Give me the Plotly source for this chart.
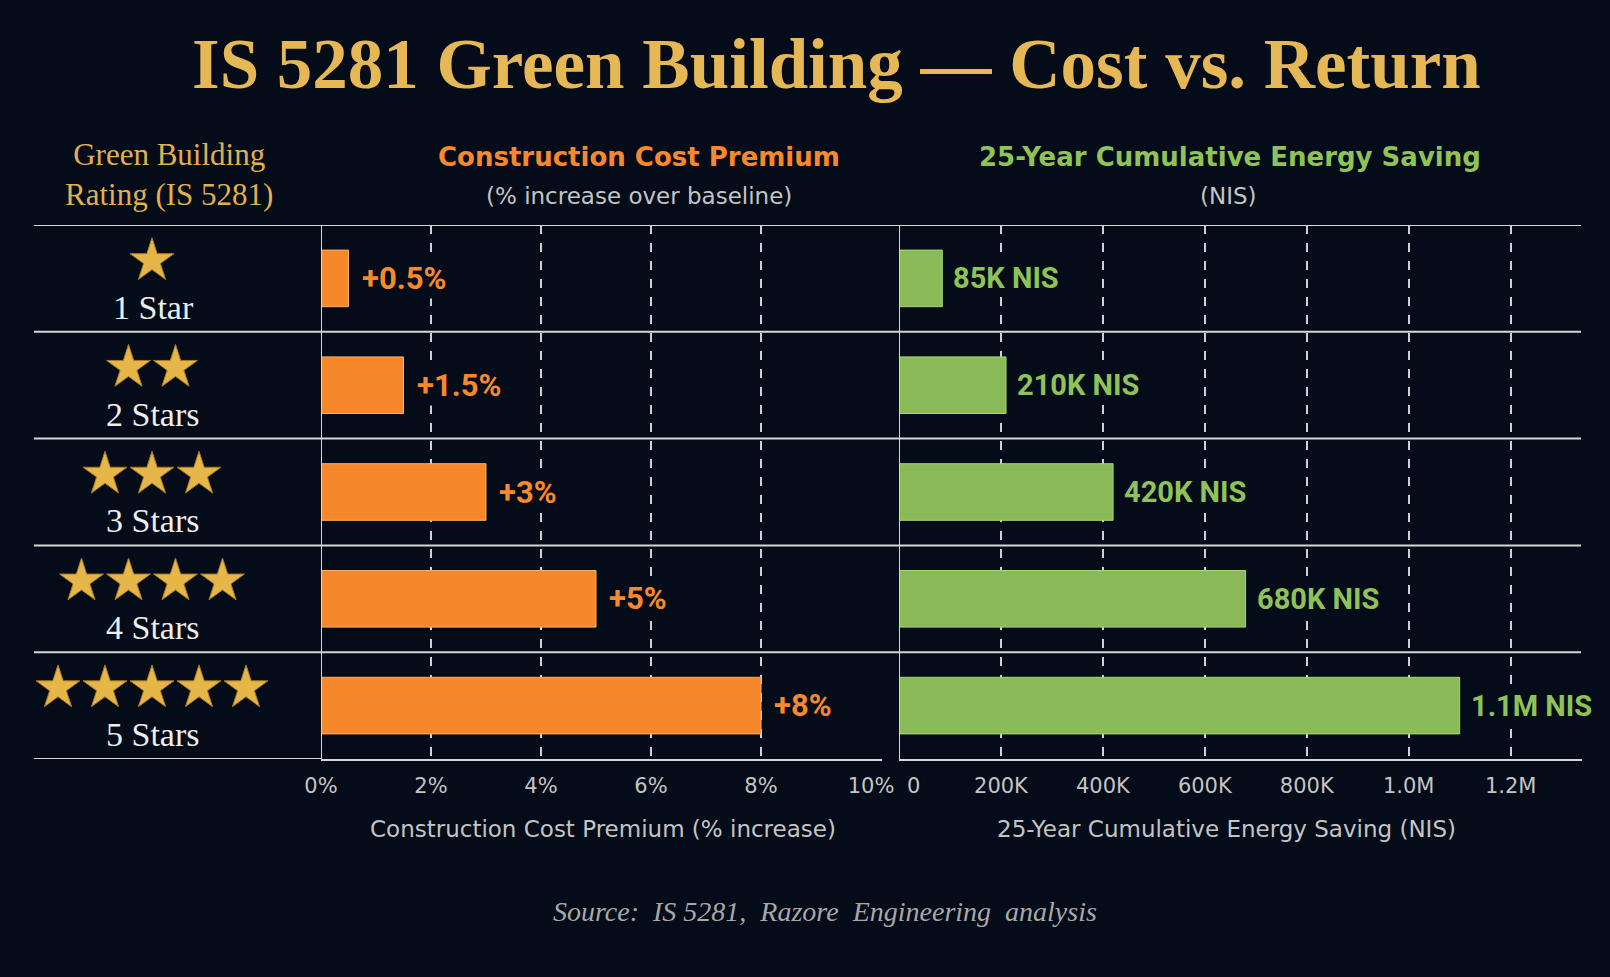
import plotly.graph_objects as go

# ---------------- data ----------------
ratings = ["1 Star", "2 Stars", "3 Stars", "4 Stars", "5 Stars"]
star_counts = [1, 2, 3, 4, 5]
cost_premium_pct = [0.5, 1.5, 3, 5, 8]
cost_labels = ["+0.5%", "+1.5%", "+3%", "+5%", "+8%"]
energy_saving_nis = [85000, 210000, 420000, 680000, 1100000]
saving_labels = ["85K NIS", "210K NIS", "420K NIS", "680K NIS", "1.1M NIS"]
cost_ticks = [0, 2, 4, 6, 8, 10]
cost_tick_text = ["0%", "2%", "4%", "6%", "8%", "10%"]
saving_ticks = [200000, 400000, 600000, 800000, 1000000, 1200000]
saving_tick_text = ["200K", "400K", "600K", "800K", "1.0M", "1.2M"]
saving_zero_label = "0"

# ---------------- style ----------------
W, H = 1610, 977
BG = "#040b19"
GOLD = "#e6b755"
ORANGE = "#f7872b"
ORANGE_TXT = "#f7892c"
GREEN = "#89ba57"
GREEN_TXT = "#8fc257"
GRAY = "#c4c4c4"
LINE = "#d6d6d6"
SERIF = "Liberation Serif, DejaVu Serif, serif"
SANS = "Roboto, Liberation Sans, sans-serif"
SANS2 = "DejaVu Sans, Liberation Sans, sans-serif"

def px_x(p):
    return p / W

def px_y(p):
    return 1 - p / H

rows = list(range(len(ratings)))

fig = go.Figure()

# cost bars
fig.add_trace(go.Bar(
    x=cost_premium_pct, y=rows, orientation="h", xaxis="x", yaxis="y",
    width=0.53, marker=dict(color=ORANGE, line=dict(color="#ffb060", width=1)),
    hoverinfo="skip", showlegend=False,
))
# saving bars
fig.add_trace(go.Bar(
    x=energy_saving_nis, y=rows, orientation="h", xaxis="x2", yaxis="y",
    width=0.53, marker=dict(color=GREEN, line=dict(color="#a8d674", width=1)),
    hoverinfo="skip", showlegend=False,
))

# stars (left column, axis x3 in pixel-like units)
sx, sy = [], []
for i, n in enumerate(star_counts):
    for k in range(n):
        sx.append(152 + (k - (n - 1) / 2) * 47)
        sy.append(i - 0.165)
fig.add_trace(go.Scatter(
    x=sx, y=sy, mode="markers", xaxis="x3", yaxis="y",
    marker=dict(symbol="star", size=33, color="#e6b648",
                line=dict(color="#a87a22", width=1)),
    hoverinfo="skip", showlegend=False, cliponaxis=False,
))

annotations = []
# title
annotations.append(dict(
    text="<b>IS 5281 Green Building — Cost vs. Return</b>", x=px_x(837), y=px_y(64),
    xref="paper", yref="paper", xanchor="center", yanchor="middle",
    showarrow=False, font=dict(family=SERIF, size=71, color=GOLD)))
# column headers
annotations.append(dict(
    text="Green Building<br>Rating (IS 5281)", x=px_x(169), y=px_y(175),
    xref="paper", yref="paper", xanchor="center", yanchor="middle",
    showarrow=False, align="center",
    font=dict(family=SERIF, size=31, color="#e2b04e")))
annotations.append(dict(
    text="<b>Construction Cost Premium</b>", x=px_x(639), y=px_y(157),
    xref="paper", yref="paper", xanchor="center", yanchor="middle",
    showarrow=False, font=dict(family=SANS2, size=26, color=ORANGE_TXT)))
annotations.append(dict(
    text="(% increase over baseline)", x=px_x(639), y=px_y(196),
    xref="paper", yref="paper", xanchor="center", yanchor="middle",
    showarrow=False, font=dict(family=SANS2, size=23, color=GRAY)))
annotations.append(dict(
    text="<b>25-Year Cumulative Energy Saving</b>", x=px_x(1230), y=px_y(157),
    xref="paper", yref="paper", xanchor="center", yanchor="middle",
    showarrow=False, font=dict(family=SANS2, size=26, color=GREEN_TXT)))
annotations.append(dict(
    text="(NIS)", x=px_x(1228), y=px_y(196),
    xref="paper", yref="paper", xanchor="center", yanchor="middle",
    showarrow=False, font=dict(family=SANS2, size=23, color=GRAY)))

# row labels
for i, r in enumerate(ratings):
    annotations.append(dict(
        text=r, x=153, y=i + 0.27, xref="x3", yref="y",
        xanchor="center", yanchor="middle", showarrow=False,
        font=dict(family=SERIF, size=34, color="#eeeeee")))

# value labels
for i, (v, t) in enumerate(zip(cost_premium_pct, cost_labels)):
    annotations.append(dict(
        text=f"<b>{t}</b>", x=v, y=i, xref="x", yref="y",
        xanchor="left", yanchor="middle", xshift=11, showarrow=False,
        bgcolor=BG, borderpad=1,
        font=dict(family=SANS, size=31, color=ORANGE_TXT)))
for i, (v, t) in enumerate(zip(energy_saving_nis, saving_labels)):
    annotations.append(dict(
        text=f"<b>{t}</b>", x=v, y=i, xref="x2", yref="y",
        xanchor="left", yanchor="middle", xshift=9, showarrow=False,
        bgcolor=BG, borderpad=1,
        font=dict(family=SANS, size=29, color=GREEN_TXT)))

# zero tick label of the saving axis (offset right of the baseline, as in the design)
annotations.append(dict(
    text=saving_zero_label, x=0, y=px_y(786), xref="x2", yref="paper",
    xanchor="left", yanchor="middle", xshift=6, showarrow=False,
    font=dict(family=SANS2, size=21, color=GRAY)))

# axis titles
annotations.append(dict(
    text="Construction Cost Premium (% increase)", x=px_x(603), y=px_y(829),
    xref="paper", yref="paper", xanchor="center", yanchor="middle",
    showarrow=False, font=dict(family=SANS2, size=23, color=GRAY)))
annotations.append(dict(
    text="25-Year Cumulative Energy Saving (NIS)", x=px_x(1226), y=px_y(829),
    xref="paper", yref="paper", xanchor="center", yanchor="middle",
    showarrow=False, font=dict(family=SANS2, size=23, color=GRAY)))
# source
annotations.append(dict(
    text="<i>Source:  IS 5281,  Razore  Engineering  analysis</i>",
    x=px_x(825), y=px_y(911),
    xref="paper", yref="paper", xanchor="center", yanchor="middle",
    showarrow=False, font=dict(family=SERIF, size=28, color="#a8a8a8")))

shapes = []
# row separators (full width)
for b in [-0.5, 0.5, 1.5, 2.5, 3.5]:
    shapes.append(dict(type="line", xref="paper", yref="y",
                       x0=px_x(34), x1=px_x(1581), y0=b, y1=b,
                       line=dict(color=LINE, width=2), layer="above"))
# bottom segment under the rating column
shapes.append(dict(type="line", xref="paper", yref="y",
                   x0=px_x(34), x1=px_x(321), y0=4.5, y1=4.5,
                   line=dict(color=LINE, width=2), layer="above"))
# vertical baselines at zero for each panel
shapes.append(dict(type="line", xref="x", yref="y", x0=0, x1=0, y0=-0.5, y1=4.5,
                   line=dict(color=LINE, width=2), layer="above"))
shapes.append(dict(type="line", xref="x2", yref="y", x0=0, x1=0, y0=-0.5, y1=4.5,
                   line=dict(color=LINE, width=2), layer="above"))

y_dom = [px_y(759), px_y(225)]

fig.update_layout(
    width=W, height=H, autosize=False,
    paper_bgcolor=BG, plot_bgcolor=BG,
    margin=dict(l=0, r=0, t=0, b=0, pad=0, autoexpand=False),
    barmode="overlay",
    annotations=annotations, shapes=shapes,
    xaxis=dict(domain=[px_x(321), px_x(882)], range=[0, 10.2], anchor="y",
               tickvals=cost_ticks, ticktext=cost_tick_text,
               showgrid=False, zeroline=False,
               showline=True, linecolor=LINE, linewidth=2,
               ticks="", ticklabelstandoff=7, automargin=False,
               tickfont=dict(family=SANS2, size=21, color=GRAY),
               minor=dict(tickvals=cost_ticks[1:-1], showgrid=True,
                          gridcolor="#d0d0d0", griddash="dash", gridwidth=1.5,
                          ticks="")),
    xaxis2=dict(domain=[px_x(899), px_x(1582)], range=[0, 1340000], anchor="y",
                tickvals=saving_ticks, ticktext=saving_tick_text,
                showgrid=False, zeroline=False,
                showline=True, linecolor=LINE, linewidth=2,
                ticks="", ticklabelstandoff=7, automargin=False,
                tickfont=dict(family=SANS2, size=21, color=GRAY),
                minor=dict(tickvals=saving_ticks, showgrid=True,
                           gridcolor="#d0d0d0", griddash="dash", gridwidth=1.5,
                           ticks="")),
    xaxis3=dict(domain=[0, px_x(321)], range=[0, 321], anchor="y",
                visible=False, fixedrange=True),
    yaxis=dict(domain=y_dom, range=[4.5, -0.5], visible=False),
)

fig.write_html("out.html", config={"responsive": False})
